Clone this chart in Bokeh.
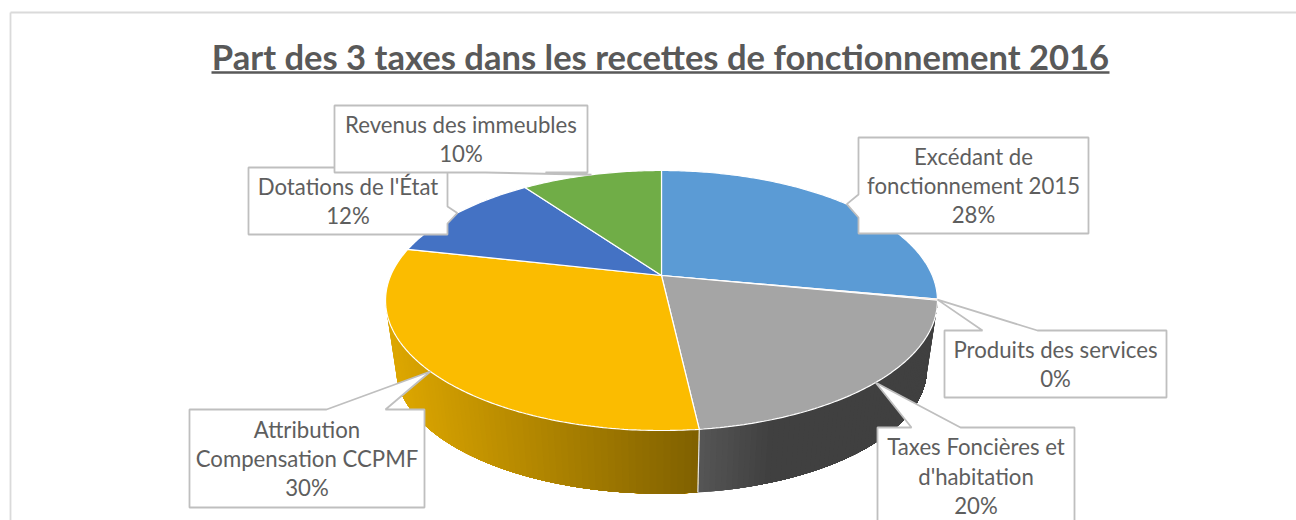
import math
from bokeh.plotting import figure
from bokeh.models import ColumnDataSource
from bokeh.core.properties import value
from bokeh.embed import file_html
from bokeh.resources import INLINE

# --- data -------------------------------------------------------------
categories = ["Excédant de fonctionnement 2015", "Produits des services",
              "Taxes Foncières et d'habitation", "Attribution Compensation CCPMF",
              "Dotations de l'État", "Revenus des immeubles"]
shares = [27.9, 0.15, 20.15, 30.3, 11.6, 9.9]
shown_pct = ["28%", "0%", "20%", "30%", "12%", "10%"]
colors = ["#5B9BD5", "#ED7D31", "#A5A5A5", "#FBBC00", "#4472C4", "#70AD47"]
label_lines = [["Excédant de", "fonctionnement 2015"], ["Produits des services"],
               ["Taxes Foncières et", "d'habitation"], ["Attribution", "Compensation CCPMF"],
               ["Dotations de l'État"], ["Revenus des immeubles"]]
title = "Part des 3 taxes dans les recettes de fonctionnement 2016"

# --- layout: callout box (left, top, right, bottom), pointer base ------
boxes = {
    0: ((858, 137, 1088, 233), "left", (194, 217)),
    1: ((944, 330, 1166, 397), "top", (982, 1037)),
    2: ((877, 427, 1074, 524), "top", (911, 960)),
    3: ((189, 409, 424, 507), "top", (326, 385)),
    4: ((248, 167, 447, 234), "right", (206, 223)),
    5: ((334, 105, 587, 172), "bottom", (485, 545)),
}
draw_order = [4, 5, 0, 1, 3, 2]
TEXT_C = "#5E5E5E"
BORDER = "#BFBFBF"

# --- 3D pie projection ---------------------------------------------------
CX, CY = 661.0, 275.0
B, A, K = 270.8, 125.2, 0.1923
DEPTH_Y, SHRINK = 69.0, 0.962


def rim(theta, lower=False):
    u, v = math.sin(theta), math.cos(theta)
    w = 1 + K * v
    x, y = B * u / w, -A * v / w
    if lower:
        return CX + SHRINK * x, CY + DEPTH_Y + SHRINK * y
    return CX + x, CY + y


total = sum(shares)
edges = [0.0]
for s in shares:
    edges.append(edges[-1] + s / total * 2 * math.pi)

p = figure(width=1296, height=520, x_range=(0, 1296), y_range=(520, 0),
           output_backend="svg", toolbar_location=None, min_border=0,
           outline_line_color=None, background_fill_color="white",
           border_fill_color="white")
p.xaxis.visible = False
p.yaxis.visible = False
p.grid.visible = False

# chart frame
p.line([10, 10], [12, 530], line_color="#DADADA", line_width=1.8)
p.line([10, 1300], [12, 12], line_color="#DADADA", line_width=1.8)

# title + underline
p.text([660], [56], text=[title], text_font=value("Lato"), text_font_style="bold",
       text_font_size="34.6px", text_color="#595959", text_align="center", text_baseline="middle")
p.segment([211], [72], [1109], [72], line_color="#595959", line_width=2.5)


def mix(c1, c2, t):
    t = max(0.0, min(1.0, t))
    return "#%02x%02x%02x" % tuple(round(a + (b - a) * t) for a, b in zip(c1, c2))


def wall_color(i, x):
    if i == 3:   # yellow slice
        return mix((0xDC, 0xA6, 0x00), (0x7F, 0x60, 0x00), (x - 392) / (698 - 392))
    return mix((0x55, 0x55, 0x55), (0x40, 0x40, 0x40), (x - 698) / 70)


# side wall: overlapping bands, each shorter than the last, to get the shading
lo, hi = math.acos(-K), 2 * math.pi - math.acos(-K)
xs, ys, fc = [], [], []
for i in [2, 3]:
    a0, a1 = max(edges[i], lo), min(edges[i + 1], hi)
    n = 70
    for j in range(n):
        t0, t1 = a0, a1 - (a1 - a0) * j / n
        m = 40
        top = [rim(t0 + (t1 - t0) * k / m) for k in range(m + 1)]
        bot = [rim(t1 - (t1 - t0) * k / m, True) for k in range(m + 1)]
        q = top + bot
        xs.append([c[0] for c in q])
        ys.append([c[1] for c in q])
        fc.append(wall_color(i, rim(t1)[0]))
p.patches(xs="xs", ys="ys", fill_color="fc", line_color=None,
          source=ColumnDataSource(dict(xs=xs, ys=ys, fc=fc)))
# seam between the two visible walls
sx0, sy0 = rim(edges[3])
sx1, sy1 = rim(edges[3], True)
p.line([sx0, sx1], [sy0, sy1], line_color="#E8E8E8", line_width=1.2)

# top face
xs, ys = [], []
for i in range(len(shares)):
    n = max(2, int((edges[i + 1] - edges[i]) * 80))
    pts = [rim(edges[i] + (edges[i + 1] - edges[i]) * j / n) for j in range(n + 1)]
    xs.append([CX] + [c[0] for c in pts])
    ys.append([CY] + [c[1] for c in pts])
p.patches(xs="xs", ys="ys", fill_color="fc", line_color="white", line_width=1.2,
          source=ColumnDataSource(dict(xs=xs, ys=ys, fc=colors)))

# callouts
for i in draw_order:
    (l, t, r, b), side, (m0, m1) = boxes[i]
    tx, ty = rim((edges[i] + edges[i + 1]) / 2)
    if side == "top":
        q = [(l, t), (m0, t), (tx, ty), (m1, t), (r, t), (r, b), (l, b)]
    elif side == "bottom":
        q = [(l, t), (r, t), (r, b), (m1, b), (tx, ty), (m0, b), (l, b)]
    elif side == "left":
        q = [(l, t), (r, t), (r, b), (l, b), (l, m1), (tx, ty), (l, m0)]
    else:
        q = [(l, t), (r, t), (r, m0), (tx, ty), (r, m1), (r, b), (l, b)]
    p.patch([c[0] for c in q], [c[1] for c in q], fill_color="white",
            line_color=BORDER, line_width=1.8)
    lines = label_lines[i] + [shown_pct[i]]
    mid = (t + b) / 2
    step = 29.3
    for k, s in enumerate(lines):
        p.text([(l + r) / 2], [mid + (k - (len(lines) - 1) / 2) * step], text=[s],
               text_font=value("Lato"), text_font_size="22.2px", text_color=TEXT_C,
               text_align="center", text_baseline="middle")

open("out.html", "w").write(file_html(p, INLINE))
